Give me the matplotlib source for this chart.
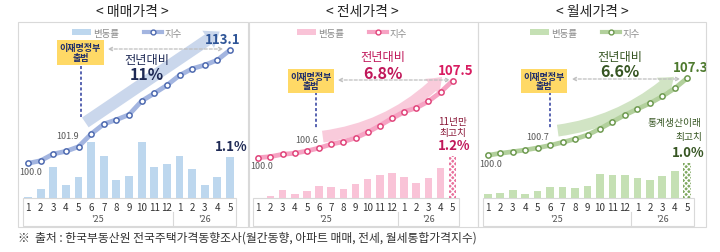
import numpy as np
import matplotlib.pyplot as plt
from matplotlib.patches import Rectangle, Patch, FancyArrowPatch
from matplotlib.lines import Line2D

plt.rcParams['font.family'] = ['Noto Sans CJK KR', 'DejaVu Sans']

W, H = 720, 253

months = list(range(1, 18))
month_labels = ['1', '2', '3', '4', '5', '6', '7', '8', '9', '10', '11', '12', '1', '2', '3', '4', '5']
years = ["'25", "'26"]
titles = ['< 매매가격 >', '< 전세가격 >', '< 월세가격 >']
legend_labels = ['변동률', '지수']

# 매매
sale_chg = [0.02, 0.24, 0.82, 0.35, 0.55, 1.49, 1.13, 0.49, 0.60, 1.49, 0.84, 0.91, 1.12, 0.77, 0.35, 0.56, 1.10]
sale_idx = [100.0, 100.30, 101.08, 101.39, 101.92, 103.39, 104.54, 105.04, 105.62, 107.20, 108.09,
            109.02, 110.17, 110.94, 111.36, 111.94, 113.1]
# 전세
jeonse_chg = [0.0, 0.07, 0.24, 0.12, 0.20, 0.35, 0.33, 0.27, 0.39, 0.55, 0.65, 0.71, 0.60, 0.42, 0.58, 0.85, 1.20]
jeonse_idx = [100.0, 100.10, 100.33, 100.43, 100.65, 100.94, 101.31, 101.56, 101.92, 102.47, 103.12,
              103.84, 104.48, 104.84, 105.49, 106.37, 107.5]
# 월세
wolse_chg = [0.12, 0.15, 0.23, 0.10, 0.21, 0.30, 0.30, 0.29, 0.34, 0.68, 0.66, 0.66, 0.58, 0.50, 0.63, 0.77, 1.00]
wolse_idx = [100.0, 100.19, 100.34, 100.50, 100.70, 100.94, 101.23, 101.54, 101.92, 102.51, 103.17,
             103.81, 104.37, 104.91, 105.57, 106.33, 107.3]

yoy = ['11%', '6.8%', '6.6%']
start_lbl = ['101.9', '100.6', '100.7']
end_lbl = ['113.1', '107.5', '107.3']
last_lbl = ['1.1%', '1.2%', '1.0%']

# layout per panel (pixels)
panels = [
    dict(chg=sale_chg, idx=sale_idx, L=18, R=248, x0=28, step=12.625, btop=4.72, ylo=95.99, yhi=116.34,
         bar='#BDD7EE', hatch=None, line='#A3B5E0', mk='#4F6BB0', dark='#1F2A55', hi='#2F5597',
         cx=132, leg=127, box=(80.5, 53.5), vline=(81, 67, 118), garrow=(105, 226, 50),
         arrow=((83, 125), (222, 31), 0.0), acol='#C5D3EA', yoyxy=(147, 61, 75)),
    dict(chg=jeonse_chg, idx=jeonse_idx, L=249, R=478, x0=258.3, step=12.15, btop=5.06, ylo=96.07, yhi=113.22,
         bar='#F9C3D7', hatch='#E8709C', line='#F6A3C3', mk='#E0457B', dark='#C0185A', hi='#D81B60',
         cx=362, leg=352, box=(311, 82), vline=(316, 93, 130), garrow=(335, 453, 81),
         arrow=((320, 138), (444, 76), 0.18), acol='#F9C6D8', yoyxy=(383, 58, 74)),
    dict(chg=wolse_chg, idx=wolse_idx, L=478, R=706, x0=487.7, step=12.475, btop=4.99, ylo=95.97, yhi=112.59,
         bar='#C5E0B4', hatch='#7FA860', line='#B2D09C', mk='#6E9A50', dark='#375623', hi='#4E7A2E',
         cx=592, leg=585, box=(544, 82), vline=(550, 93, 130), garrow=(569, 683, 80),
         arrow=((555, 132), (676, 76), 0.16), acol='#CCE1BE', yoyxy=(620, 57, 72)),
]


def fx(px):
    return px / W


def fy(py):
    return 1 - py / H


fig = plt.figure(figsize=(7.2, 2.53), dpi=100)

for i, p in enumerate(panels):
    L, R = p['L'], p['R']
    ax = fig.add_axes([fx(L), fy(199), (R - L) / W, 176 / H])
    ax.set_xlim(1 + (L - p['x0']) / p['step'], 1 + (R - p['x0']) / p['step'])
    bars = ax.bar(months, p['chg'], width=0.62, color=p['bar'], zorder=2)
    if p['hatch']:
        bars[-1].set_facecolor(p['hatch'])
        bars[-1].set_edgecolor('#ffffff')
        bars[-1].set_hatch('xxxxxx')
        bars[-1].set_linewidth(0)
    ax.set_ylim(0, p['btop'])
    ax.set_xticks(months, month_labels, fontsize=7, color='#333333')
    ax.tick_params(axis='x', length=0, pad=3)
    ax.set_yticks([])
    for s in ax.spines.values():
        s.set_visible(False)

    # table under the bars
    tr = ax.get_xaxis_transform()
    ax.add_patch(Rectangle((0.6, -28 / 176), 16.9, 28 / 176, transform=tr, fill=False,
                           ec='#D9D9D9', lw=0.8, clip_on=False))
    ax.plot([12.5, 12.5], [-28 / 176, -14 / 176], transform=tr, color='#D9D9D9', lw=0.8, clip_on=False)
    ax.text(6.5, -21 / 176, years[0], transform=tr, ha='center', va='center', fontsize=6.5, color='#555555')
    ax.text(15, -21 / 176, years[1], transform=tr, ha='center', va='center', fontsize=6.5, color='#555555')

    ax2 = ax.twinx()
    ax2.plot(months, p['idx'], color=p['line'], lw=3.4, zorder=3, solid_capstyle='round')
    ax2.plot(months, p['idx'], 'o', ms=3.8, mfc='white', mec=p['mk'], mew=1.1, zorder=4)
    ax2.set_ylim(p['ylo'], p['yhi'])
    ax2.set_yticks([])
    for s in ax2.spines.values():
        s.set_visible(False)

    # big trend arrow
    (ax_, ay_), (bx_, by_), rad = p['arrow']
    arr = FancyArrowPatch((fx(ax_), fy(ay_)), (fx(bx_), fy(by_)), transform=fig.transFigure,
                          connectionstyle=f'arc3,rad={rad}',
                          arrowstyle='simple,head_width=15,head_length=10,tail_width=8.5',
                          mutation_scale=1, color=p['acol'], lw=0, zorder=2, clip_on=False, alpha=0.9)
    ax2.add_artist(arr)

    # panel frame
    fig.patches.append(Rectangle((fx(L), fy(228)), (R - L) / W, 205 / H, transform=fig.transFigure,
                                 fill=False, ec='#D9D9D9', lw=0.8))

    fig.text(fx(p['cx']), fy(12), titles[i], ha='center', va='center', fontsize=10, color='#222222')

    handles = [Patch(color=p['bar'], lw=0),
               Line2D([], [], color=p['line'], lw=3, marker='o', ms=3.5, mfc='white', mec=p['mk'], mew=1)]
    fig.legend(handles, legend_labels, loc='center', bbox_to_anchor=(fx(p['leg']), fy(34)), ncol=2,
               frameon=False, fontsize=6.8, labelcolor='#8c8c8c', handlelength=2.0, handleheight=0.6,
               handletextpad=0.2, columnspacing=2.6)

    # government start marker
    vx, vy0, vy1 = p['vline']
    fig.add_artist(Line2D([fx(vx), fx(vx)], [fy(vy0), fy(vy1)], transform=fig.transFigure,
                          color='#2B3A9C', lw=1.1, ls=(0, (2, 1.5))))
    bx, by = p['box']
    fig.text(fx(bx), fy(by), '이재명정부\n출범', ha='center', va='center', fontsize=6.5, fontweight='bold',
             color='#1F2D6B', linespacing=1.1,
             bbox=dict(boxstyle='square,pad=0.3', fc='#FFD966', ec='none'))
    gx0, gx1, gy = p['garrow']
    fig.add_artist(FancyArrowPatch((fx(gx0), fy(gy)), (fx(gx1), fy(gy)), transform=fig.transFigure,
                                   arrowstyle='<->', mutation_scale=6, color='#BFBFBF', lw=0.9,
                                   linestyle=(0, (2.5, 1.5))))

    tx, ty1, ty2 = p['yoyxy']
    fig.text(fx(tx), fy(ty1), '전년대비', ha='center', va='center', fontsize=8.8, color=p['dark'])
    fig.text(fx(tx), fy(ty2), yoy[i], ha='center', va='center', fontsize=11.5, fontweight='bold', color=p['dark'])

    # point labels
    ax2.annotate('100.0', (1, p['idx'][0]), xytext=(3, -8), textcoords='offset pixels',
                 ha='center', va='center', fontsize=6.5, color='#595959')
    ax2.annotate(start_lbl[i], (5, p['idx'][4]), xytext=(-11 if i == 0 else 0, 11), textcoords='offset pixels',
                 ha='center', va='center', fontsize=6.5, color='#595959')
    ax2.annotate(end_lbl[i], (17, p['idx'][-1]), xytext=(-7 if i == 0 else 3, 11), textcoords='offset pixels',
                 ha='center', va='center', fontsize=9.5, fontweight='bold', color=p['hi'])
    ax.annotate(last_lbl[i], (17, p['chg'][-1]), xytext=(1, 11), textcoords='offset pixels',
                ha='center', va='center', fontsize=9.5, fontweight='bold', color=p['dark'])

# record notes
fig.text(fx(453), fy(122), '11년만', ha='center', va='center', fontsize=7, color='#8B1A3A')
fig.text(fx(453), fy(133), '최고치', ha='center', va='center', fontsize=7, color='#8B1A3A')
fig.text(fx(702), fy(123), '통계생산이래', ha='right', va='center', fontsize=7, color='#375623')
fig.text(fx(702), fy(137), '최고치', ha='right', va='center', fontsize=7, color='#375623')

fig.text(fx(18), fy(238), '※  출처 : 한국부동산원 전국주택가격동향조사(월간동향, 아파트 매매, 전세, 월세통합가격지수)',
         ha='left', va='center', fontsize=8.5, color='#333333')

fig.savefig('out.png', dpi=100)
